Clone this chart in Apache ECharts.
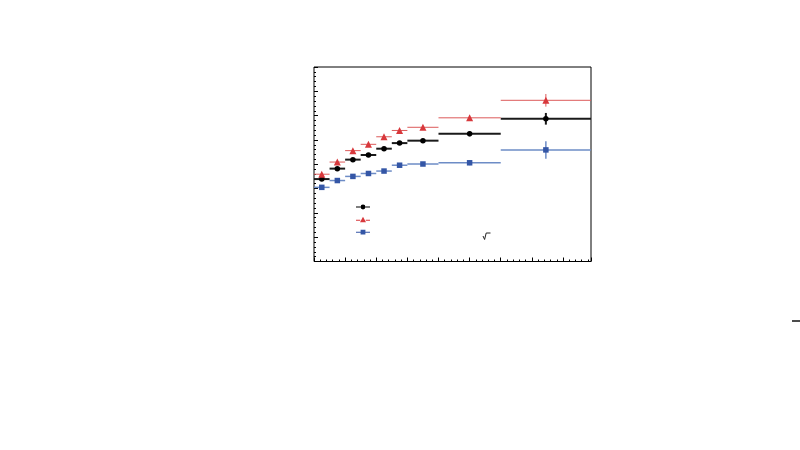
<!DOCTYPE html>
<html>
<head>
<meta charset="utf-8">
<script src="https://cdn.jsdelivr.net/npm/echarts@6/dist/echarts.min.js"></script>
<style>
html,body{margin:0;padding:0;background:#fff;}
#chart{width:800px;height:450px;}
</style>
</head>
<body>
<div id="chart"></div>
<script>
// bin edges along x
const binEdges = [0, 0.5, 1, 1.5, 2, 2.5, 3, 4, 6, 8.9];
// series values (one per bin) and their vertical errors
const blackVals = [3.39, 3.82, 4.19, 4.38, 4.64, 4.87, 4.97, 5.25, 5.87];
const blackErr  = [0.04, 0.04, 0.04, 0.04, 0.05, 0.05, 0.06, 0.10, 0.24];
const redVals   = [3.59, 4.09, 4.56, 4.82, 5.13, 5.39, 5.52, 5.91, 6.63];
const redErr    = [0.04, 0.04, 0.04, 0.04, 0.05, 0.05, 0.06, 0.10, 0.26];
const blueVals  = [3.05, 3.33, 3.50, 3.62, 3.72, 3.96, 4.01, 4.06, 4.59];
const blueErr   = [0.03, 0.03, 0.03, 0.04, 0.04, 0.05, 0.06, 0.10, 0.36];
// axis ranges / ticks (labels are not shown in the reference)
const xMin = 0, xMax = 8.9, xStep = 1;
const yMin = 0, yMax = 8, yStep = 1;

function barData(vals, errs) {
  return vals.map((v, i) => [binEdges[i], binEdges[i + 1], v, errs[i]]);
}
function pointData(vals) {
  return vals.map((v, i) => [(binEdges[i] + binEdges[i + 1]) / 2, v]);
}
function errRender(lineColor, lineWidth) {
  return function (params, api) {
    const lo = api.value(0), hi = api.value(1), y = api.value(2), e = api.value(3);
    const xc = (lo + hi) / 2;
    const pL = api.coord([lo, y]), pR = api.coord([hi, y]);
    const pT = api.coord([xc, y + e]), pB = api.coord([xc, y - e]);
    return {
      type: 'group',
      children: [
        { type: 'line', shape: { x1: pL[0], y1: pL[1], x2: pR[0], y2: pR[1] },
          style: { stroke: lineColor, lineWidth: lineWidth } },
        { type: 'line', shape: { x1: pT[0], y1: pT[1], x2: pB[0], y2: pB[1] },
          style: { stroke: lineColor, lineWidth: lineWidth } }
      ]
    };
  };
}

const iconCircle = 'path://M0,2.5L4.6,2.5L4.6,3.5L0,3.5Z M9.4,2.5L14,2.5L14,3.5L9.4,3.5Z M4.6,3A2.4,2.4 0 1,1 9.4,3A2.4,2.4 0 1,1 4.6,3Z';
const iconTri = 'path://M0,3.5L4.2,3.5L4.2,4.5L0,4.5Z M9.8,3.5L14,3.5L14,4.5L9.8,4.5Z M4,6L7,0.5L10,6Z';
const iconRect = 'path://M0,2.5L4.6,2.5L4.6,3.5L0,3.5Z M9.4,2.5L14,2.5L14,3.5L9.4,3.5Z M4.6,0.6L9.4,0.6L9.4,5.4L4.6,5.4Z';

const chart = echarts.init(document.getElementById('chart'), null, { renderer: 'canvas' });
chart.setOption({
  animation: false,
  backgroundColor: '#ffffff',
  grid: {
    left: 314, right: 209, top: 67, bottom: 188.5,
    show: true, borderColor: '#000', borderWidth: 1, backgroundColor: 'transparent'
  },
  xAxis: {
    type: 'value', min: xMin, max: xMax, interval: xStep,
    axisLine: { show: false },
    axisTick: { show: true, inside: true, length: 4, lineStyle: { color: '#000', width: 1 } },
    minorTick: { show: true, splitNumber: 5, length: 2, lineStyle: { color: '#000', width: 1 } },
    axisLabel: { show: false },
    splitLine: { show: false }
  },
  yAxis: {
    type: 'value', min: yMin, max: yMax, interval: yStep,
    axisLine: { show: false },
    axisTick: { show: true, inside: true, length: 4, lineStyle: { color: '#000', width: 1 } },
    minorTick: { show: true, splitNumber: 5, length: 2, lineStyle: { color: '#000', width: 1 } },
    axisLabel: { show: false },
    splitLine: { show: false }
  },
  legend: {
    orient: 'vertical', left: 356, top: 204, padding: 0,
    itemWidth: 14, itemHeight: 6, itemGap: 7,
    symbolKeepAspect: true,
    formatter: function () { return ''; },
    textStyle: { fontSize: 1 },
    selectedMode: false,
    data: [
      { name: 'black', icon: iconCircle },
      { name: 'red', icon: iconTri },
      { name: 'blue', icon: iconRect }
    ]
  },
  graphic: [
    { type: 'polyline', shape: { points: [[483, 236], [484.6, 239.5], [486.2, 233], [490.5, 233]] },
      style: { stroke: '#222', lineWidth: 1, fill: null } },
    { type: 'line', shape: { x1: 792, y1: 321, x2: 800, y2: 321 },
      style: { stroke: '#111', lineWidth: 1.5 } }
  ],
  series: [
    { type: 'custom', name: 'blueErr', data: barData(blueVals, blueErr),
      encode: { x: [0, 1], y: 2 }, renderItem: errRender('#6d8cc6', 1.5), z: 2, silent: true },
    { type: 'custom', name: 'blackErr', data: barData(blackVals, blackErr),
      encode: { x: [0, 1], y: 2 }, renderItem: errRender('#1a1a1a', 2), z: 2, silent: true },
    { type: 'custom', name: 'redErr', data: barData(redVals, redErr),
      encode: { x: [0, 1], y: 2 }, renderItem: errRender('#dc5a5a', 1), z: 2, silent: true },
    { type: 'scatter', name: 'blue', data: pointData(blueVals), symbol: 'rect', symbolSize: 5.5,
      itemStyle: { color: '#3456a6', opacity: 1 }, z: 5, silent: true },
    { type: 'scatter', name: 'black', data: pointData(blackVals), symbol: 'circle', symbolSize: 5.5,
      itemStyle: { color: '#000000', opacity: 1 }, z: 5, silent: true },
    { type: 'scatter', name: 'red', data: pointData(redVals), symbol: 'triangle', symbolSize: 7,
      itemStyle: { color: '#d8383c', opacity: 1 }, z: 5, silent: true }
  ]
});
</script>
</body>
</html>
